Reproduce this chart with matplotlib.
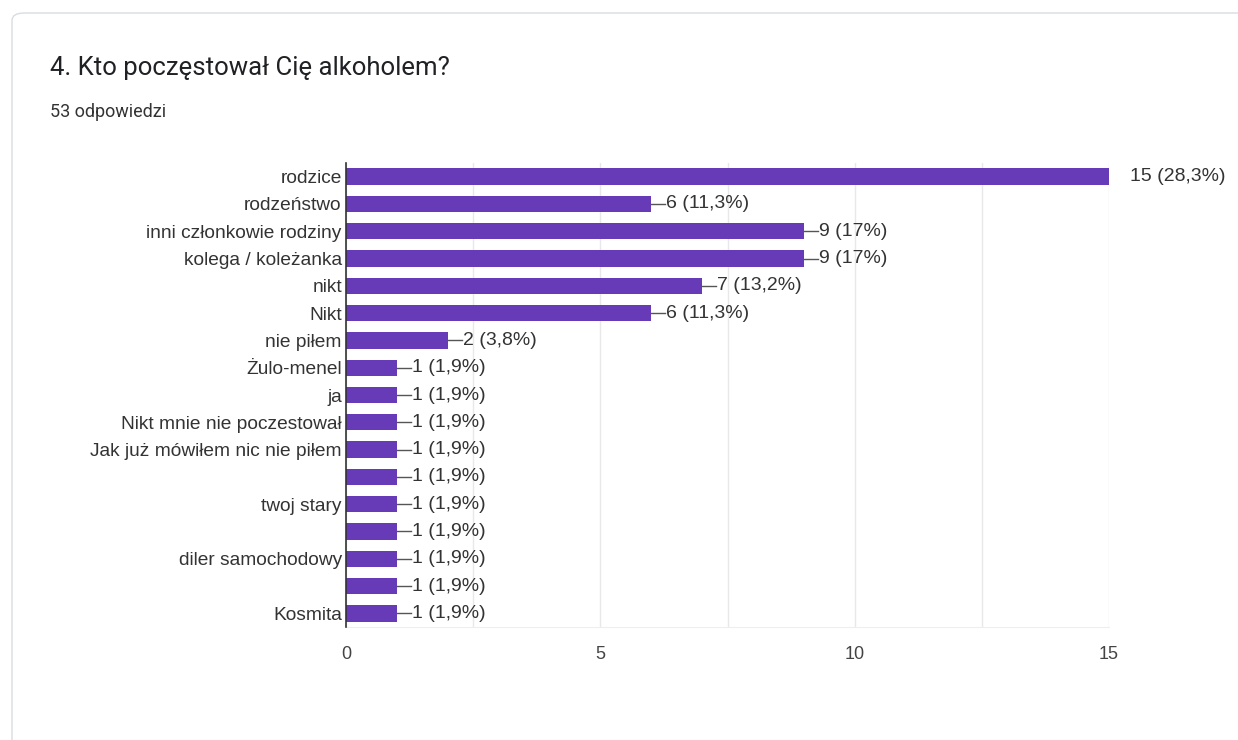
import matplotlib.pyplot as plt
from matplotlib.patches import FancyBboxPatch

# answers to the question, top to bottom
categories = ["rodzice", "rodzeństwo", "inni członkowie rodziny", "kolega / koleżanka",
              "nikt", "Nikt", "nie piłem", "Żulo-menel", "ja", "Nikt mnie nie poczestował",
              "Jak już mówiłem nic nie piłem", "", "twoj stary", "", "diler samochodowy",
              "", "Kosmita"]
counts = [15, 6, 9, 9, 7, 6, 2, 1, 1, 1, 1, 1, 1, 1, 1, 1, 1]
percents = ["28,3%", "11,3%", "17%", "17%", "13,2%", "11,3%", "3,8%", "1,9%", "1,9%",
            "1,9%", "1,9%", "1,9%", "1,9%", "1,9%", "1,9%", "1,9%", "1,9%"]
xticks = [0, 5, 10, 15]

title = "4. Kto poczęstował Cię alkoholem?"
subtitle = "53 odpowiedzi"

plt.rcParams['font.family'] = ['Liberation Sans', 'DejaVu Sans']
bar_color = "#673ab7"
text_color = "#333333"

fig = plt.figure(figsize=(12.38, 7.40), dpi=100)

# card background
card = FancyBboxPatch((12 / 1238, -0.1), 1.2, 1 - 13 / 740 + 0.1,
                      boxstyle="round,pad=0,rounding_size=0.01",
                      transform=fig.transFigure, facecolor="white",
                      edgecolor="#dadce0", linewidth=1.0, zorder=-10)
fig.patches.append(card)

fig.text(50 / 1238, 1 - 68 / 740, title, fontsize=18.5, color="#202124", va="center",
         family=['Roboto', 'DejaVu Sans'])
fig.text(50 / 1238, 1 - 112 / 740, subtitle, fontsize=13, color="#333333", va="center",
         family=['Roboto', 'DejaVu Sans'])

ax = fig.add_axes([346 / 1238, 1 - 627 / 740, 763 / 1238, 464 / 740])
ax.set_facecolor("none")

ypos = list(range(len(categories)))
ax.barh(ypos, counts, height=0.6, color=bar_color, zorder=3)

ax.set_xlim(0, 15)
ax.set_ylim(len(categories) - 0.5, -0.5)
ax.set_yticks(ypos)
ax.set_yticklabels(categories, fontsize=13.8, color=text_color)
ax.set_xticks(xticks)
ax.set_xticklabels([str(t) for t in xticks], fontsize=13, color="#444444")
ax.set_xticks([2.5, 7.5, 12.5], minor=True)
ax.tick_params(axis="y", length=0, pad=3)
ax.tick_params(axis="x", which="both", length=0, pad=14)

ax.grid(axis="x", which="both", color="#e8e8e8", linewidth=1, zorder=0)
for s in ["top", "right"]:
    ax.spines[s].set_visible(False)
ax.spines["bottom"].set_color("#eeeeee")
ax.spines["left"].set_color("#333333")
ax.spines["left"].set_linewidth(1.2)
ax.spines["left"].set_zorder(4)

for y, c, p in zip(ypos, counts, percents):
    label = f"{c} ({p})"
    if c >= 15:
        ax.text(c + 0.42, y, label, va="center", ha="left", fontsize=14,
                color=text_color, clip_on=False)
    else:
        ax.plot([c, c + 0.28], [y, y], color="#555555", linewidth=1, zorder=3)
        ax.text(c + 0.3, y, label, va="center", ha="left", fontsize=14,
                color=text_color)

fig.savefig("out.png", dpi=100)
